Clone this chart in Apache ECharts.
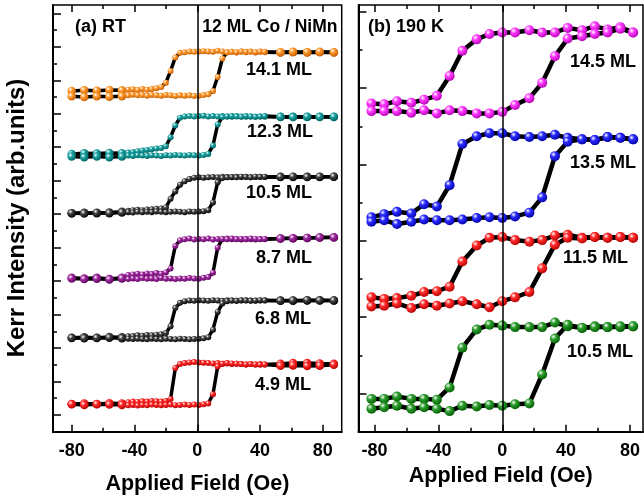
<!DOCTYPE html>
<html>
<head>
<meta charset="utf-8">
<script src="https://cdn.jsdelivr.net/npm/echarts@6/dist/echarts.min.js"></script>
<style>
  html, body { margin: 0; padding: 0; background: #fff; }
  #chart { width: 644px; height: 500px; }
</style>
</head>
<body>
<div id="chart"></div>
<script>
// applied field (Oe) at which the loops were sampled
const fieldRT = [-80, -72, -64, -56, -48, -44, -41, -38, -35, -32, -29, -26, -23, -20, -17, -14, -11, -8, -5, -2,
    1, 4, 7, 10, 13, 16, 19, 22, 25, 28, 31, 34, 37, 40, 43, 53, 61, 70, 78, 87];
const field190 = [-82, -74, -66, -57, -49, -41, -33, -25, -16, -8, 0, 8, 17, 25, 33, 41, 50, 58, 66, 74, 82];

// (a) RT, Kerr signal (arb. units, offset per thickness). down = branch from +H, up = branch from -H
const rt141Down = [9.68, 9.70, 9.69, 9.71, 9.70, 9.72, 9.73, 9.71, 9.74, 9.72, 9.74, 9.76, 9.80, 9.93, 10.28, 10.68, 10.82, 10.84, 10.86, 10.85,
    10.86, 10.87, 10.86, 10.85, 10.88, 10.86, 10.84, 10.85, 10.83, 10.86, 10.84, 10.86, 10.83, 10.85, 10.84, 10.83, 10.84, 10.83, 10.84, 10.83];
const rt141Up = [9.52, 9.50, 9.52, 9.51, 9.52, 9.55, 9.57, 9.55, 9.56, 9.54, 9.56, 9.55, 9.54, 9.56, 9.55, 9.53, 9.55, 9.54, 9.55, 9.53,
    9.54, 9.56, 9.58, 9.68, 10.10, 10.65, 10.83, 10.85, 10.84, 10.86, 10.85, 10.85, 10.84, 10.86, 10.85, 10.84, 10.85, 10.84, 10.85, 10.84];
const rt123Down = [7.80, 7.82, 7.81, 7.83, 7.82, 7.84, 7.86, 7.88, 7.90, 7.92, 7.94, 7.96, 7.98, 8.03, 8.30, 8.65, 8.88, 8.92, 8.93, 8.92,
    8.93, 8.94, 8.92, 8.93, 8.92, 8.93, 8.92, 8.91, 8.93, 8.92, 8.91, 8.92, 8.91, 8.92, 8.91, 8.90, 8.91, 8.90, 8.91, 8.90];
const rt123Up = [7.72, 7.70, 7.72, 7.70, 7.72, 7.75, 7.74, 7.76, 7.75, 7.74, 7.76, 7.75, 7.74, 7.76, 7.75, 7.77, 7.76, 7.75, 7.77, 7.76,
    7.75, 7.77, 7.80, 8.05, 8.68, 8.90, 8.92, 8.93, 8.92, 8.91, 8.93, 8.92, 8.91, 8.92, 8.93, 8.91, 8.90, 8.91, 8.90, 8.91];
const rt105Down = [6.03, 6.04, 6.03, 6.05, 6.07, 6.10, 6.12, 6.13, 6.12, 6.14, 6.15, 6.16, 6.17, 6.20, 6.46, 6.68, 6.88, 6.98, 7.05, 7.09,
    7.10, 7.09, 7.10, 7.11, 7.10, 7.12, 7.11, 7.10, 7.12, 7.11, 7.12, 7.10, 7.11, 7.12, 7.11, 7.12, 7.11, 7.12, 7.11, 7.12];
const rt105Up = [6.03, 6.02, 6.04, 6.03, 6.05, 6.06, 6.05, 6.07, 6.06, 6.07, 6.06, 6.08, 6.07, 6.06, 6.07, 6.08, 6.07, 6.06, 6.08, 6.07,
    6.08, 6.09, 6.12, 6.35, 6.95, 7.08, 7.10, 7.11, 7.10, 7.12, 7.11, 7.10, 7.12, 7.11, 7.12, 7.11, 7.12, 7.11, 7.12, 7.12];
const rt87Down = [4.10, 4.08, 4.10, 4.06, 4.10, 4.18, 4.20, 4.22, 4.20, 4.23, 4.21, 4.24, 4.22, 4.26, 4.38, 5.05, 5.22, 5.25, 5.27, 5.24,
    5.26, 5.25, 5.27, 5.24, 5.26, 5.25, 5.27, 5.25, 5.26, 5.24, 5.26, 5.25, 5.24, 5.26, 5.25, 5.27, 5.28, 5.29, 5.30, 5.31];
const rt87Up = [4.08, 4.06, 4.07, 4.05, 4.08, 4.06, 4.08, 4.06, 4.09, 4.07, 4.08, 4.06, 4.09, 4.07, 4.08, 4.06, 4.08, 4.07, 4.09, 4.08,
    4.07, 4.10, 4.12, 4.25, 5.00, 5.26, 5.25, 5.27, 5.25, 5.26, 5.25, 5.27, 5.26, 5.25, 5.26, 5.27, 5.28, 5.29, 5.30, 5.30];
const rt68Down = [2.31, 2.32, 2.31, 2.33, 2.32, 2.35, 2.36, 2.38, 2.37, 2.39, 2.38, 2.40, 2.41, 2.45, 2.65, 3.20, 3.35, 3.40, 3.42, 3.41,
    3.43, 3.42, 3.41, 3.43, 3.42, 3.41, 3.43, 3.42, 3.41, 3.42, 3.43, 3.42, 3.41, 3.42, 3.43, 3.42, 3.41, 3.42, 3.43, 3.42];
const rt68Up = [2.30, 2.29, 2.30, 2.31, 2.29, 2.28, 2.27, 2.28, 2.27, 2.26, 2.28, 2.27, 2.26, 2.28, 2.27, 2.26, 2.28, 2.27, 2.26, 2.27,
    2.28, 2.29, 2.32, 2.55, 3.08, 3.33, 3.40, 3.42, 3.41, 3.43, 3.42, 3.41, 3.42, 3.43, 3.42, 3.41, 3.42, 3.43, 3.42, 3.42];
const rt49Down = [0.33, 0.34, 0.33, 0.35, 0.34, 0.38, 0.40, 0.39, 0.41, 0.40, 0.42, 0.41, 0.40, 0.42, 0.48, 1.40, 1.52, 1.55, 1.57, 1.58,
    1.57, 1.56, 1.55, 1.54, 1.55, 1.53, 1.54, 1.52, 1.53, 1.52, 1.51, 1.52, 1.51, 1.52, 1.51, 1.53, 1.55, 1.55, 1.54, 1.53];
const rt49Up = [0.32, 0.30, 0.32, 0.31, 0.30, 0.29, 0.30, 0.28, 0.30, 0.29, 0.31, 0.30, 0.29, 0.30, 0.31, 0.29, 0.30, 0.31, 0.30, 0.31,
    0.30, 0.32, 0.34, 0.62, 1.45, 1.53, 1.55, 1.54, 1.53, 1.52, 1.51, 1.52, 1.51, 1.50, 1.51, 1.47, 1.48, 1.46, 1.47, 1.50];

// (b) 190 K
const lt145Down = [3.80, 3.79, 3.83, 3.81, 3.85, 3.90, 4.16, 4.49, 4.64, 4.71, 4.73, 4.73, 4.76, 4.73, 4.73, 4.79, 4.76, 4.81, 4.77, 4.80, 4.73];
const lt145Up = [3.70, 3.70, 3.70, 3.68, 3.71, 3.67, 3.71, 3.70, 3.67, 3.67, 3.69, 3.78, 3.87, 4.07, 4.42, 4.65, 4.68, 4.71, 4.73, 4.78, 4.73];
const lt135Down = [2.31, 2.35, 2.38, 2.36, 2.48, 2.45, 2.73, 3.27, 3.37, 3.41, 3.41, 3.37, 3.36, 3.37, 3.39, 3.35, 3.33, 3.32, 3.36, 3.35, 3.33];
const lt135Up = [2.25, 2.27, 2.22, 2.25, 2.28, 2.27, 2.27, 2.28, 2.30, 2.31, 2.30, 2.32, 2.37, 2.57, 3.11, 3.30, 3.33, 3.32, 3.36, 3.35, 3.33];
const lt115Down = [1.26, 1.24, 1.25, 1.28, 1.33, 1.34, 1.40, 1.73, 1.94, 2.04, 2.05, 2.01, 1.99, 2.01, 2.07, 2.08, 2.04, 2.05, 2.04, 2.05, 2.04];
const lt115Up = [1.14, 1.15, 1.18, 1.12, 1.17, 1.15, 1.18, 1.21, 1.17, 1.13, 1.21, 1.26, 1.33, 1.64, 1.95, 2.04, 2.03, 2.05, 2.04, 2.05, 2.04];
const lt105Down = [-0.07, -0.07, -0.04, -0.07, -0.07, -0.08, 0.08, 0.60, 0.84, 0.90, 0.89, 0.87, 0.87, 0.87, 0.93, 0.88, 0.86, 0.88, 0.87, 0.87, 0.88];
const lt105Up = [-0.20, -0.18, -0.16, -0.20, -0.18, -0.20, -0.23, -0.16, -0.17, -0.15, -0.16, -0.14, -0.13, 0.25, 0.72, 0.90, 0.86, 0.87, 0.87, 0.88, 0.88];

// ticks
const xMajor = [-80, -40, 0, 40, 80];
const xMinor = [-60, -20, 20, 60];
const yMajorRT = [0, 1, 2, 3, 4, 5, 6, 7, 8, 9, 10, 11, 12];
const yMinorRT = [0.5, 1.5, 2.5, 3.5, 4.5, 5.5, 6.5, 7.5, 8.5, 9.5, 10.5, 11.5];
const yMajorLT = [0, 1, 2, 3, 4, 5];
const yMinorLT = [0.5, 1.5, 2.5, 3.5, 4.5];

const FONT = 'Liberation Sans';
const black = { color: '#000', width: 1.5 };

function xAxes(grid, min, max, nameGap) {
    const base = { gridIndex: grid, type: 'value', min: min, max: max, splitLine: { show: false } };
    return [
        Object.assign({}, base, {
            position: 'bottom',
            axisLine: { onZero: false, lineStyle: { color: '#000', width: 2 } },
            axisTick: { inside: true, length: 7, customValues: xMajor, lineStyle: black },
            axisLabel: { customValues: xMajor, margin: 10, color: '#000', fontSize: 18, fontWeight: 'bold', fontFamily: FONT },
            name: 'Applied Field (Oe)', nameLocation: 'middle', nameGap: nameGap,
            nameTextStyle: { color: '#000', fontSize: 21.5, fontWeight: 'bold', fontFamily: FONT }
        }),
        Object.assign({}, base, {
            position: 'bottom',
            axisLine: { show: false, onZero: false },
            axisTick: { inside: true, length: 4, customValues: xMinor, lineStyle: black },
            axisLabel: { show: false }
        }),
        Object.assign({}, base, {
            position: 'top',
            axisLine: { show: false, onZero: false },
            axisTick: { inside: true, length: 7, customValues: xMajor, lineStyle: black },
            axisLabel: { show: false }
        }),
        Object.assign({}, base, {
            position: 'top',
            axisLine: { show: false, onZero: false },
            axisTick: { inside: true, length: 4, customValues: xMinor, lineStyle: black },
            axisLabel: { show: false }
        })
    ];
}

function yAxes(grid, min, max, major, minor) {
    const base = { gridIndex: grid, type: 'value', min: min, max: max, position: 'left', splitLine: { show: false }, axisLabel: { show: false } };
    return [
        Object.assign({}, base, {
            axisLine: { onZero: false, lineStyle: { color: '#000', width: 2 } },
            axisTick: { inside: true, length: 8, customValues: major, lineStyle: black }
        }),
        Object.assign({}, base, {
            axisLine: { show: false, onZero: false },
            axisTick: { inside: true, length: 4, customValues: minor, lineStyle: black }
        })
    ];
}

function sphere(c, dark) {
    return {
        type: 'radial', x: 0.35, y: 0.32, r: 0.75,
        colorStops: [{ offset: 0, color: '#ffffff' }, { offset: 0.35, color: c }, { offset: 1, color: dark }]
    };
}

function branch(fields, ys, c, dark, panel) {
    const rt = panel === 0;
    return {
        type: 'line',
        xAxisIndex: rt ? 0 : 4,
        yAxisIndex: rt ? 0 : 2,
        data: fields.map((h, i) => [h, ys[i]]),
        symbol: 'circle',
        symbolSize: rt ? (v => Math.abs(v[0]) > 45 ? 8.5 : 6) : 10,
        showAllSymbol: true,
        lineStyle: { color: '#000', width: rt ? 3.5 : 4.5 },
        itemStyle: { color: sphere(c, dark) },
        emphasis: { disabled: true },
        z: 3
    };
}

function zeroLine(panel) {
    return {
        type: 'line', xAxisIndex: panel === 0 ? 0 : 4, yAxisIndex: panel === 0 ? 0 : 2, data: [], z: 1,
        markLine: {
            silent: true, symbol: 'none', label: { show: false },
            lineStyle: { color: '#000', width: 1.5, type: 'solid' },
            data: [{ xAxis: 0 }]
        }
    };
}

function label(text, x, y, align, size) {
    return {
        type: 'text', x: x, y: y, z: 10,
        style: { text: text, fill: '#000', font: 'bold ' + (size || 18) + 'px "' + FONT + '"', align: align || 'right', verticalAlign: 'middle' }
    };
}

const options = {
    animation: false,
    backgroundColor: '#fff',
    grid: [
        { left: 53, top: 5, width: 288.7, height: 426.7, show: true, borderColor: '#000', borderWidth: 1.5 },
        { left: 358.5, top: 5, width: 284.5, height: 426.7, show: true, borderColor: '#000', borderWidth: 1.5 }
    ],
    xAxis: xAxes(0, -91.9, 92, 41).concat(xAxes(1, -90.1, 88.2, 32)),
    yAxis: yAxes(0, -0.5, 12.25, yMajorRT, yMinorRT).concat(yAxes(1, -0.5, 5.09, yMajorLT, yMinorLT)),
    series: [
        zeroLine(0), zeroLine(1),
        branch(fieldRT, rt141Down, '#ff9a2e', '#c25a00', 0), branch(fieldRT, rt141Up, '#ff9a2e', '#c25a00', 0),
        branch(fieldRT, rt123Down, '#1aa3a3', '#005c5c', 0), branch(fieldRT, rt123Up, '#1aa3a3', '#005c5c', 0),
        branch(fieldRT, rt105Down, '#444444', '#000000', 0), branch(fieldRT, rt105Up, '#444444', '#000000', 0),
        branch(fieldRT, rt87Down, '#a02ca0', '#5c005c', 0), branch(fieldRT, rt87Up, '#a02ca0', '#5c005c', 0),
        branch(fieldRT, rt68Down, '#444444', '#000000', 0), branch(fieldRT, rt68Up, '#444444', '#000000', 0),
        branch(fieldRT, rt49Down, '#ff2a2a', '#b00000', 0), branch(fieldRT, rt49Up, '#ff2a2a', '#b00000', 0),
        branch(field190, lt145Down, '#ff3cff', '#b000b0', 1), branch(field190, lt145Up, '#ff3cff', '#b000b0', 1),
        branch(field190, lt135Down, '#2b2bff', '#0000a0', 1), branch(field190, lt135Up, '#2b2bff', '#0000a0', 1),
        branch(field190, lt115Down, '#ff2a2a', '#b00000', 1), branch(field190, lt115Up, '#ff2a2a', '#b00000', 1),
        branch(field190, lt105Down, '#2e9e2e', '#005a00', 1), branch(field190, lt105Up, '#2e9e2e', '#005a00', 1)
    ],
    graphic: [
        label('(a) RT', 75, 27, 'left'),
        label('12 ML Co / NiMn', 337.5, 27, 'right', 17.5),
        label('14.1 ML', 312, 70),
        label('12.3 ML', 313, 131.7),
        label('10.5 ML', 312, 193.3),
        label('8.7 ML', 312, 258.3),
        label('6.8 ML', 311, 319.3),
        label('4.9 ML', 311, 385),
        label('(b) 190 K', 368, 26.7, 'left'),
        label('14.5 ML', 636, 61.7),
        label('13.5 ML', 636, 163.3),
        label('11.5 ML', 628, 258.3),
        label('10.5 ML', 633, 351.7),
        {
            type: 'text', x: 17, y: 218, rotation: Math.PI / 2, z: 10,
            style: { text: 'Kerr Intensity (arb.units)', fill: '#000', font: 'bold 24px "' + FONT + '"', align: 'center', verticalAlign: 'middle' }
        }
    ]
};

const E = echarts.init(document.getElementById('chart'));
E.setOption(options);
</script>
</body>
</html>
